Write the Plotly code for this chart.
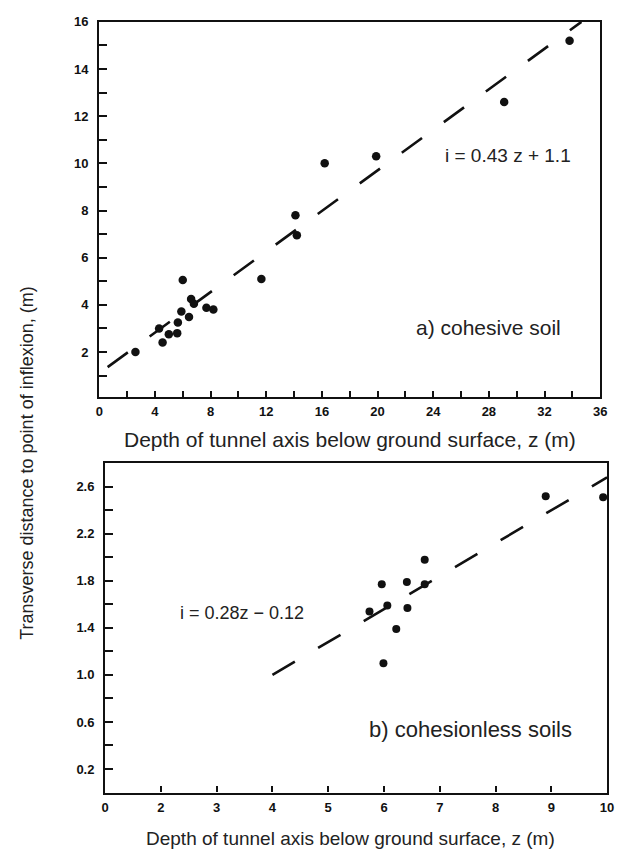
import plotly.graph_objects as go

# ---- data: (a) cohesive soil ----
coh_z = [2.6, 4.3, 4.55, 5.0, 5.6, 5.65, 5.9, 6.0, 6.45, 6.6, 6.8, 7.7, 8.2,
         11.65, 14.1, 14.2, 16.2, 19.9, 29.1, 33.8]
coh_i = [2.0, 3.0, 2.4, 2.75, 2.8, 3.25, 3.72, 5.05, 3.48, 4.25, 4.05, 3.88, 3.8,
         5.1, 7.8, 6.95, 10.0, 10.3, 12.6, 15.2]
coh_fit_z = [0.6, 34.65]
coh_fit_i = [1.36, 16.0]

# ---- data: (b) cohesionless soils ----
cnl_z = [5.74, 5.96, 5.99, 6.06, 6.22, 6.41, 6.42, 6.73, 6.73, 8.9, 9.93]
cnl_i = [1.54, 1.77, 1.10, 1.59, 1.39, 1.79, 1.57, 1.98, 1.77, 2.52, 2.51]
cnl_fit_z = [4.0, 10.0]
cnl_fit_i = [1.0, 2.68]

# tick labels (bottom x axis is broken: first tick labelled 0)
b_x_tickvals = [1, 2, 3, 4, 5, 6, 7, 8, 9, 10]
b_x_ticktext = ["0", "2", "3", "4", "5", "6", "7", "8", "9", "10"]

W, H = 617, 857
def px(x):
    return x / W
def py(y):
    return 1 - y / H

FONT = "Liberation Sans, Arial, sans-serif"
tickfont = dict(family=FONT, size=13, color="#111", weight="bold")

fig = go.Figure()
fig.add_trace(go.Scatter(x=coh_fit_z, y=coh_fit_i, mode="lines",
                         line=dict(color="#111", width=2.6, dash="25px,27px"),
                         xaxis="x", yaxis="y", showlegend=False))
fig.add_trace(go.Scatter(x=coh_z, y=coh_i, mode="markers",
                         marker=dict(color="#111", size=8.5),
                         xaxis="x", yaxis="y", showlegend=False))
fig.add_trace(go.Scatter(x=cnl_fit_z, y=cnl_fit_i, mode="lines",
                         line=dict(color="#111", width=2.6, dash="26px,27px"),
                         xaxis="x2", yaxis="y2", showlegend=False))
fig.add_trace(go.Scatter(x=cnl_z, y=cnl_i, mode="markers",
                         marker=dict(color="#111", size=8),
                         xaxis="x2", yaxis="y2", showlegend=False))

axline = dict(showline=True, linecolor="#111", linewidth=2.2, mirror=True,
              showgrid=False, zeroline=False, tickfont=tickfont,
              ticks="inside", tickcolor="#111", tickwidth=2)

fig.update_layout(
    width=W, height=H,
    margin=dict(l=0, r=0, t=0, b=0),
    paper_bgcolor="white", plot_bgcolor="white",
    xaxis=dict(domain=[px(97), px(607)], anchor="y", range=[0, 36],
               tick0=0, dtick=4, ticklen=6,
               minor=dict(dtick=2, ticks="inside", ticklen=6, tickcolor="#111", tickwidth=2),
               ticklabelstandoff=2, **axline),
    yaxis=dict(domain=[py(393), py(15)], anchor="x", range=[0.1, 16],
               tick0=0, dtick=2, ticklen=8,
               minor=dict(dtick=1, ticks="inside", ticklen=8, tickcolor="#111", tickwidth=2),
               ticklabelstandoff=6, **axline),
    xaxis2=dict(domain=[px(103), px(614)], anchor="y2", range=[1, 10],
                tickvals=b_x_tickvals, ticktext=b_x_ticktext, ticklen=6,
                ticklabelstandoff=2, **axline),
    yaxis2=dict(domain=[py(792), py(460)], anchor="x2", range=[0, 2.8],
                tick0=0.2, dtick=0.4, ticklen=8, tickformat=".1f",
                minor=dict(tick0=0, dtick=0.4, ticks="inside", ticklen=8, tickcolor="#111", tickwidth=2),
                ticklabelstandoff=6, **axline),
)

# dashed segment marking the broken axis between "0" and "2"
fig.add_shape(type="line", xref="x2", yref="y2",
              x0=b_x_tickvals[0], x1=b_x_tickvals[1], y0=0, y1=0,
              line=dict(color="white", width=3, dash="4px,4px"), layer="above")

ann_font = dict(family=FONT, color="#222")
common = dict(showarrow=False, xanchor="center", yanchor="middle")
fig.add_annotation(text="Transverse distance to point of inflexion, (m)",
                   xref="paper", yref="paper", x=px(24), y=py(460),
                   textangle=-90, font=dict(size=18, **ann_font), **common)
fig.add_annotation(text="Depth of tunnel axis below ground surface, z (m)",
                   xref="paper", yref="paper", x=px(352.5), y=py(436),
                   font=dict(size=21, **ann_font), **common)
fig.add_annotation(text="Depth of tunnel axis below ground surface, z (m)",
                   xref="paper", yref="paper", x=px(353), y=py(838),
                   font=dict(size=19, **ann_font), **common)
fig.add_annotation(text="i = 0.43 z + 1.1", xref="x", yref="y", x=29.4, y=10.34,
                   font=dict(size=19, **ann_font), **common)
fig.add_annotation(text="a) cohesive soil", xref="x", yref="y", x=28.0, y=3.05,
                   font=dict(size=21, **ann_font), **common)
fig.add_annotation(text="i = 0.28z \u2212 0.12", xref="x2", yref="y2", x=3.45, y=1.525,
                   font=dict(size=18, **ann_font), **common)
fig.add_annotation(text="b) cohesionless soils", xref="x2", yref="y2", x=7.55, y=0.534,
                   font=dict(size=22, **ann_font), **common)

fig.write_html("out.html", config={"displayModeBar": False},
               post_script="document.body.style.margin='0';document.body.style.overflow='hidden';")
